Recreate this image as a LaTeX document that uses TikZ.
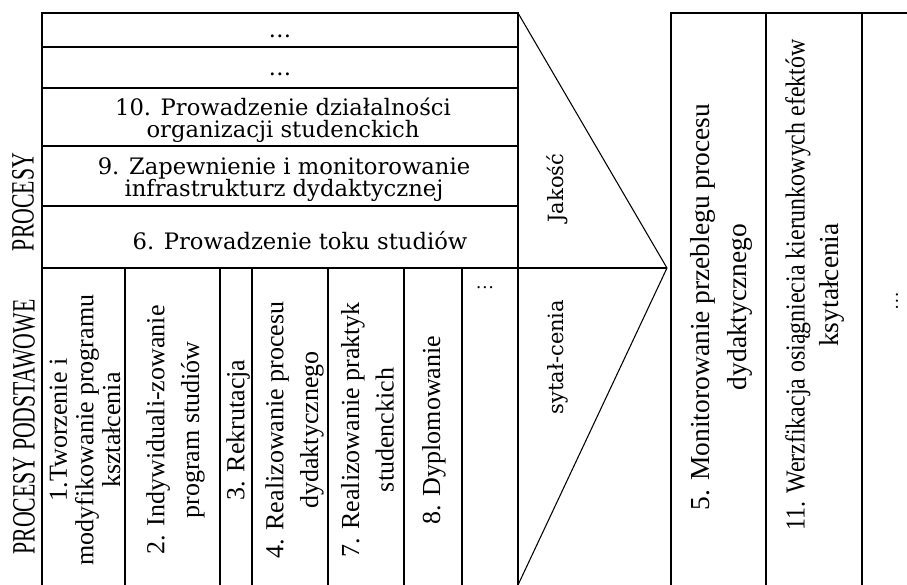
\documentclass[tikz,border=0pt]{standalone}
\usepackage{fontspec}
\setmainfont{Liberation Serif}
\newfontfamily\dvs{DejaVu Serif}
\tikzset{
  boxline/.style={line width=1.8pt},
  thinline/.style={line width=0.8pt},
  htext/.style={font=\dvs\fontsize{17}{16.5}\selectfont, align=center, inner sep=0pt},
  vtext/.style={rotate=90, font=\fontsize{19.5}{26}\selectfont, align=center, inner sep=0pt},
  vtextone/.style={rotate=90, font=\fontsize{19.5}{20}\selectfont, align=center, inner sep=0pt},
  captext/.style={rotate=90, font=\fontsize{24.4}{26}\selectfont, inner sep=0pt},
  qtext/.style={rotate=90, font=\dvs\fontsize{15.75}{18}\selectfont, inner sep=0pt},
  rtext/.style={rotate=90, font=\fontsize{20.6}{27.75}\selectfont, align=center, inner sep=0pt},
  dots/.style={font=\fontsize{14}{16}\selectfont, inner sep=0pt}
}
\begin{document}
\begin{tikzpicture}[x=0.75pt,y=-0.75pt]
\useasboundingbox (0,0) rectangle (907,585);
\begin{scope}
\clip (0,0) rectangle (907,585);
% left block
\draw[boxline] (42,590) -- (42,13) -- (518,13) -- (518,590);
\foreach \yy in {47,88,146,206,268} \draw[boxline] (42,\yy) -- (518,\yy);
\foreach \xx in {125,220,252,328,404,462} \draw[boxline] (\xx,268) -- (\xx,590);
% arrow shape
\coordinate (tA) at (518,13);
\coordinate (tip) at (667,268);
\coordinate (tB) at (518,585);
\coordinate (tM) at (518,268);
\draw[thinline] (tA) -- (tip) -- (tB);
\draw[thinline] (tM) -- (tip);
% right block
\draw[boxline] (671,590) -- (671,13) -- (912,13);
\foreach \xx in {766,862} \draw[boxline] (\xx,13) -- (\xx,590);
\end{scope}
% side labels
\node[captext] (procesy) at (23,202) {\scalebox{0.67}[1]{PROCESY}};
\node[captext] (podst) at (24,427) {\scalebox{0.67}[1]{PROCESY PODSTAWOWE}};
% top rows
\node[htext] (r1) at (280,36.5) {…};
\node[htext] (r2) at (280,74.5) {…};
\node[htext] (r3) at (283,120) {10. Prowadzenie działalności\\organizacji studenckich};
\node[htext] (r4) at (284,180) {9. Zapewnienie i monitorowanie\\infrastrukturz dydaktycznej};
\node[htext] (r5) at (300,241) {6. Prowadzenie toku studiów};
% columns
\node[vtextone] (c1) at (85,430) {1.Tworzenie i\\modyfikowanie programu\\kształcenia};
\node[vtext] (c2) at (175.5,430) {2. Indywiduali-zowanie\\program studiów};
\node[vtext] (c3) at (238,430) {3. Rekrutacja};
\node[vtext] (c4) at (294.5,430) {4. Realizowanie procesu\\dydaktycznego};
\node[vtext] (c5) at (367.5,430) {7. Realizowanie praktyk\\studenckich};
\node[vtext] (c6) at (434,430) {8. Dyplomowanie};
\node[dots] (c7) at (485,288) {…};
% arrow labels
\node[qtext] (jakosc) at (557,188) {Jakość};
\node[qtext] (sytal) at (558,357) {sytał-cenia};
% right block
\node[rtext] (m5) at (721.5,307) {5. Monitorowanie przeblegu procesu\\dydaktycznego};
\node[rtext, font=\fontsize{20.6}{25.5}\selectfont] (m11) at (815,285) {\scalebox{0.87}[1]{11. Werzfikacja osiągniecia kierunkowych efektów}\\ksytałcenia};
\node[dots, rotate=90] (m12) at (897,301) {…};
\end{tikzpicture}
\end{document}
